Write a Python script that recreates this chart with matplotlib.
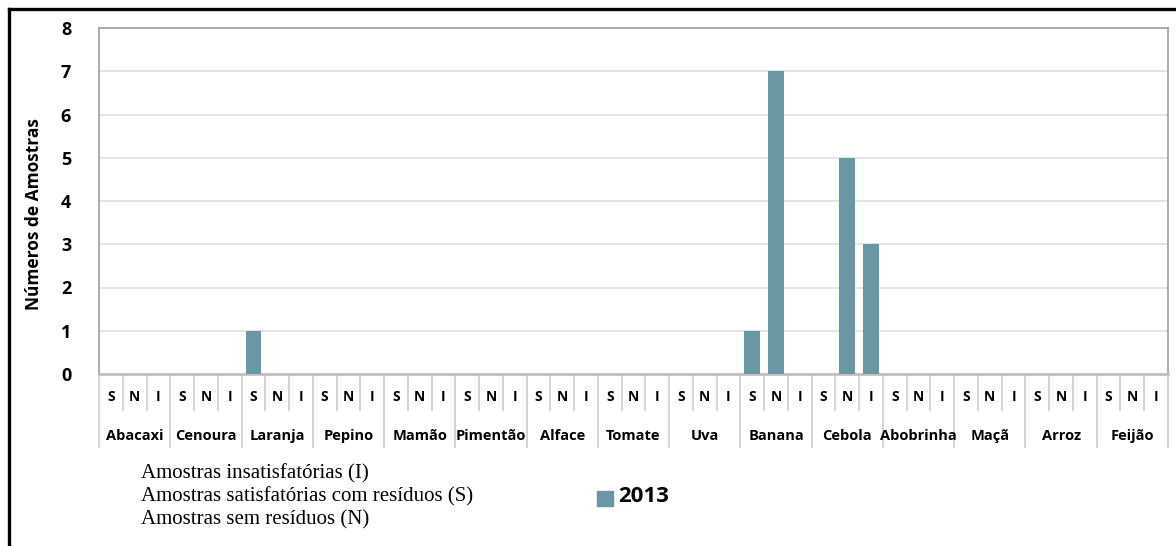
import numpy as np
import matplotlib as mpl
import matplotlib.pyplot as plt
from matplotlib.transforms import blended_transform_factory
from matplotlib.lines import Line2D
from matplotlib.patches import Rectangle

## Data
produtos = ['Abacaxi', 'Cenoura', 'Laranja', 'Pepino', 'Mamão', 'Pimentão', 'Alface',
            'Tomate', 'Uva', 'Banana', 'Cebola', 'Abobrinha', 'Maçã', 'Arroz', 'Feijão']
subcat = ['S', 'N', 'I']
# values per product in order S, N, I (2013)
s_2013 = [0, 0, 1, 0, 0, 0, 0, 0, 0, 1, 0, 0, 0, 0, 0]
n_2013 = [0, 0, 0, 0, 0, 0, 0, 0, 0, 7, 5, 0, 0, 0, 0]
i_2013 = [0, 0, 0, 0, 0, 0, 0, 0, 0, 0, 3, 0, 0, 0, 0]
serie = '2013'
yticks = [0, 1, 2, 3, 4, 5, 6, 7, 8]
notas = ['Amostras insatisfatórias (I)',
         'Amostras satisfatórias com resíduos (S)',
         'Amostras sem resíduos (N)']

W, H = 1176, 546
fig = plt.figure(figsize=(W / 100, H / 100), dpi=100)
sans = ['Open Sans', 'DejaVu Sans']
serif = ['Liberation Serif', 'DejaVu Serif']

# plot area in pixels
left, top, right, bottom = 99, 28, 1168, 374
ax = fig.add_axes([left / W, 1 - bottom / H, (right - left) / W, (bottom - top) / H])

vals = []
for k in range(len(produtos)):
    vals += [s_2013[k], n_2013[k], i_2013[k]]
x = np.arange(len(vals))
bar_col = '#6a97a4'
ax.bar(x, vals, width=0.66, color=bar_col, zorder=3)

ax.set_xlim(-0.5, len(vals) - 0.5)
ax.set_ylim(0, 8)
ax.set_yticks(yticks)
ax.set_yticklabels([str(t) for t in yticks], fontsize=13, fontweight='bold', family=sans)
ax.tick_params(axis='y', length=0, pad=20)
ax.set_xticks([])
ax.grid(True, axis='y', color='#e2e2e2', lw=1.3, zorder=0)
for sp in ax.spines.values():
    sp.set_color('#a6a6a6')
    sp.set_linewidth(1.3)
ax.spines['bottom'].set_color('#c0c0c0')
ax.spines['bottom'].set_linewidth(2)

ax.set_ylabel('Números de Amostras', fontsize=12.5, fontweight='bold', family=sans)
ax.yaxis.set_label_coords(-0.052, 0.462)

## x axis category labels (two levels)
tr = blended_transform_factory(ax.transData, fig.transFigure)
def fy(py):
    return 1 - py / H

for j in range(len(vals)):
    ax.text(j, fy(397), subcat[j % 3], transform=tr, ha='center', va='center',
            fontsize=10, fontweight='bold', family=sans, clip_on=False)
for k, p in enumerate(produtos):
    ax.text(3 * k + 1, fy(436), p, transform=tr, ha='center', va='center',
            fontsize=10.5, fontweight='bold', family=sans, clip_on=False)
for j in range(len(vals) + 1):
    y2 = 447 if j % 3 == 0 else 410
    ln = Line2D([j - 0.5, j - 0.5], [fy(376), fy(y2)], transform=tr,
                color='#d0d0d0', lw=1.3, clip_on=False)
    ax.add_line(ln)

## notes and legend
for k, t in enumerate(notas):
    fig.text(141 / W, fy(474 + 23 * k), t, fontsize=15, family=serif, va='center', ha='left')
fig.patches.append(Rectangle((597 / W, fy(506)), 16 / W, 15 / H, transform=fig.transFigure,
                             color=bar_col, figure=fig))
fig.text(618 / W, fy(497), serie, fontsize=16, fontweight='bold', family=sans,
         va='center', ha='left')

## outer frame (left and top only)
fig.add_artist(Line2D([9 / W, 9 / W], [0, fy(9)], color='black', lw=2.4, transform=fig.transFigure))
fig.add_artist(Line2D([9 / W, 1], [fy(9), fy(9)], color='black', lw=2.4, transform=fig.transFigure))

fig.savefig('out.png', dpi=100)
